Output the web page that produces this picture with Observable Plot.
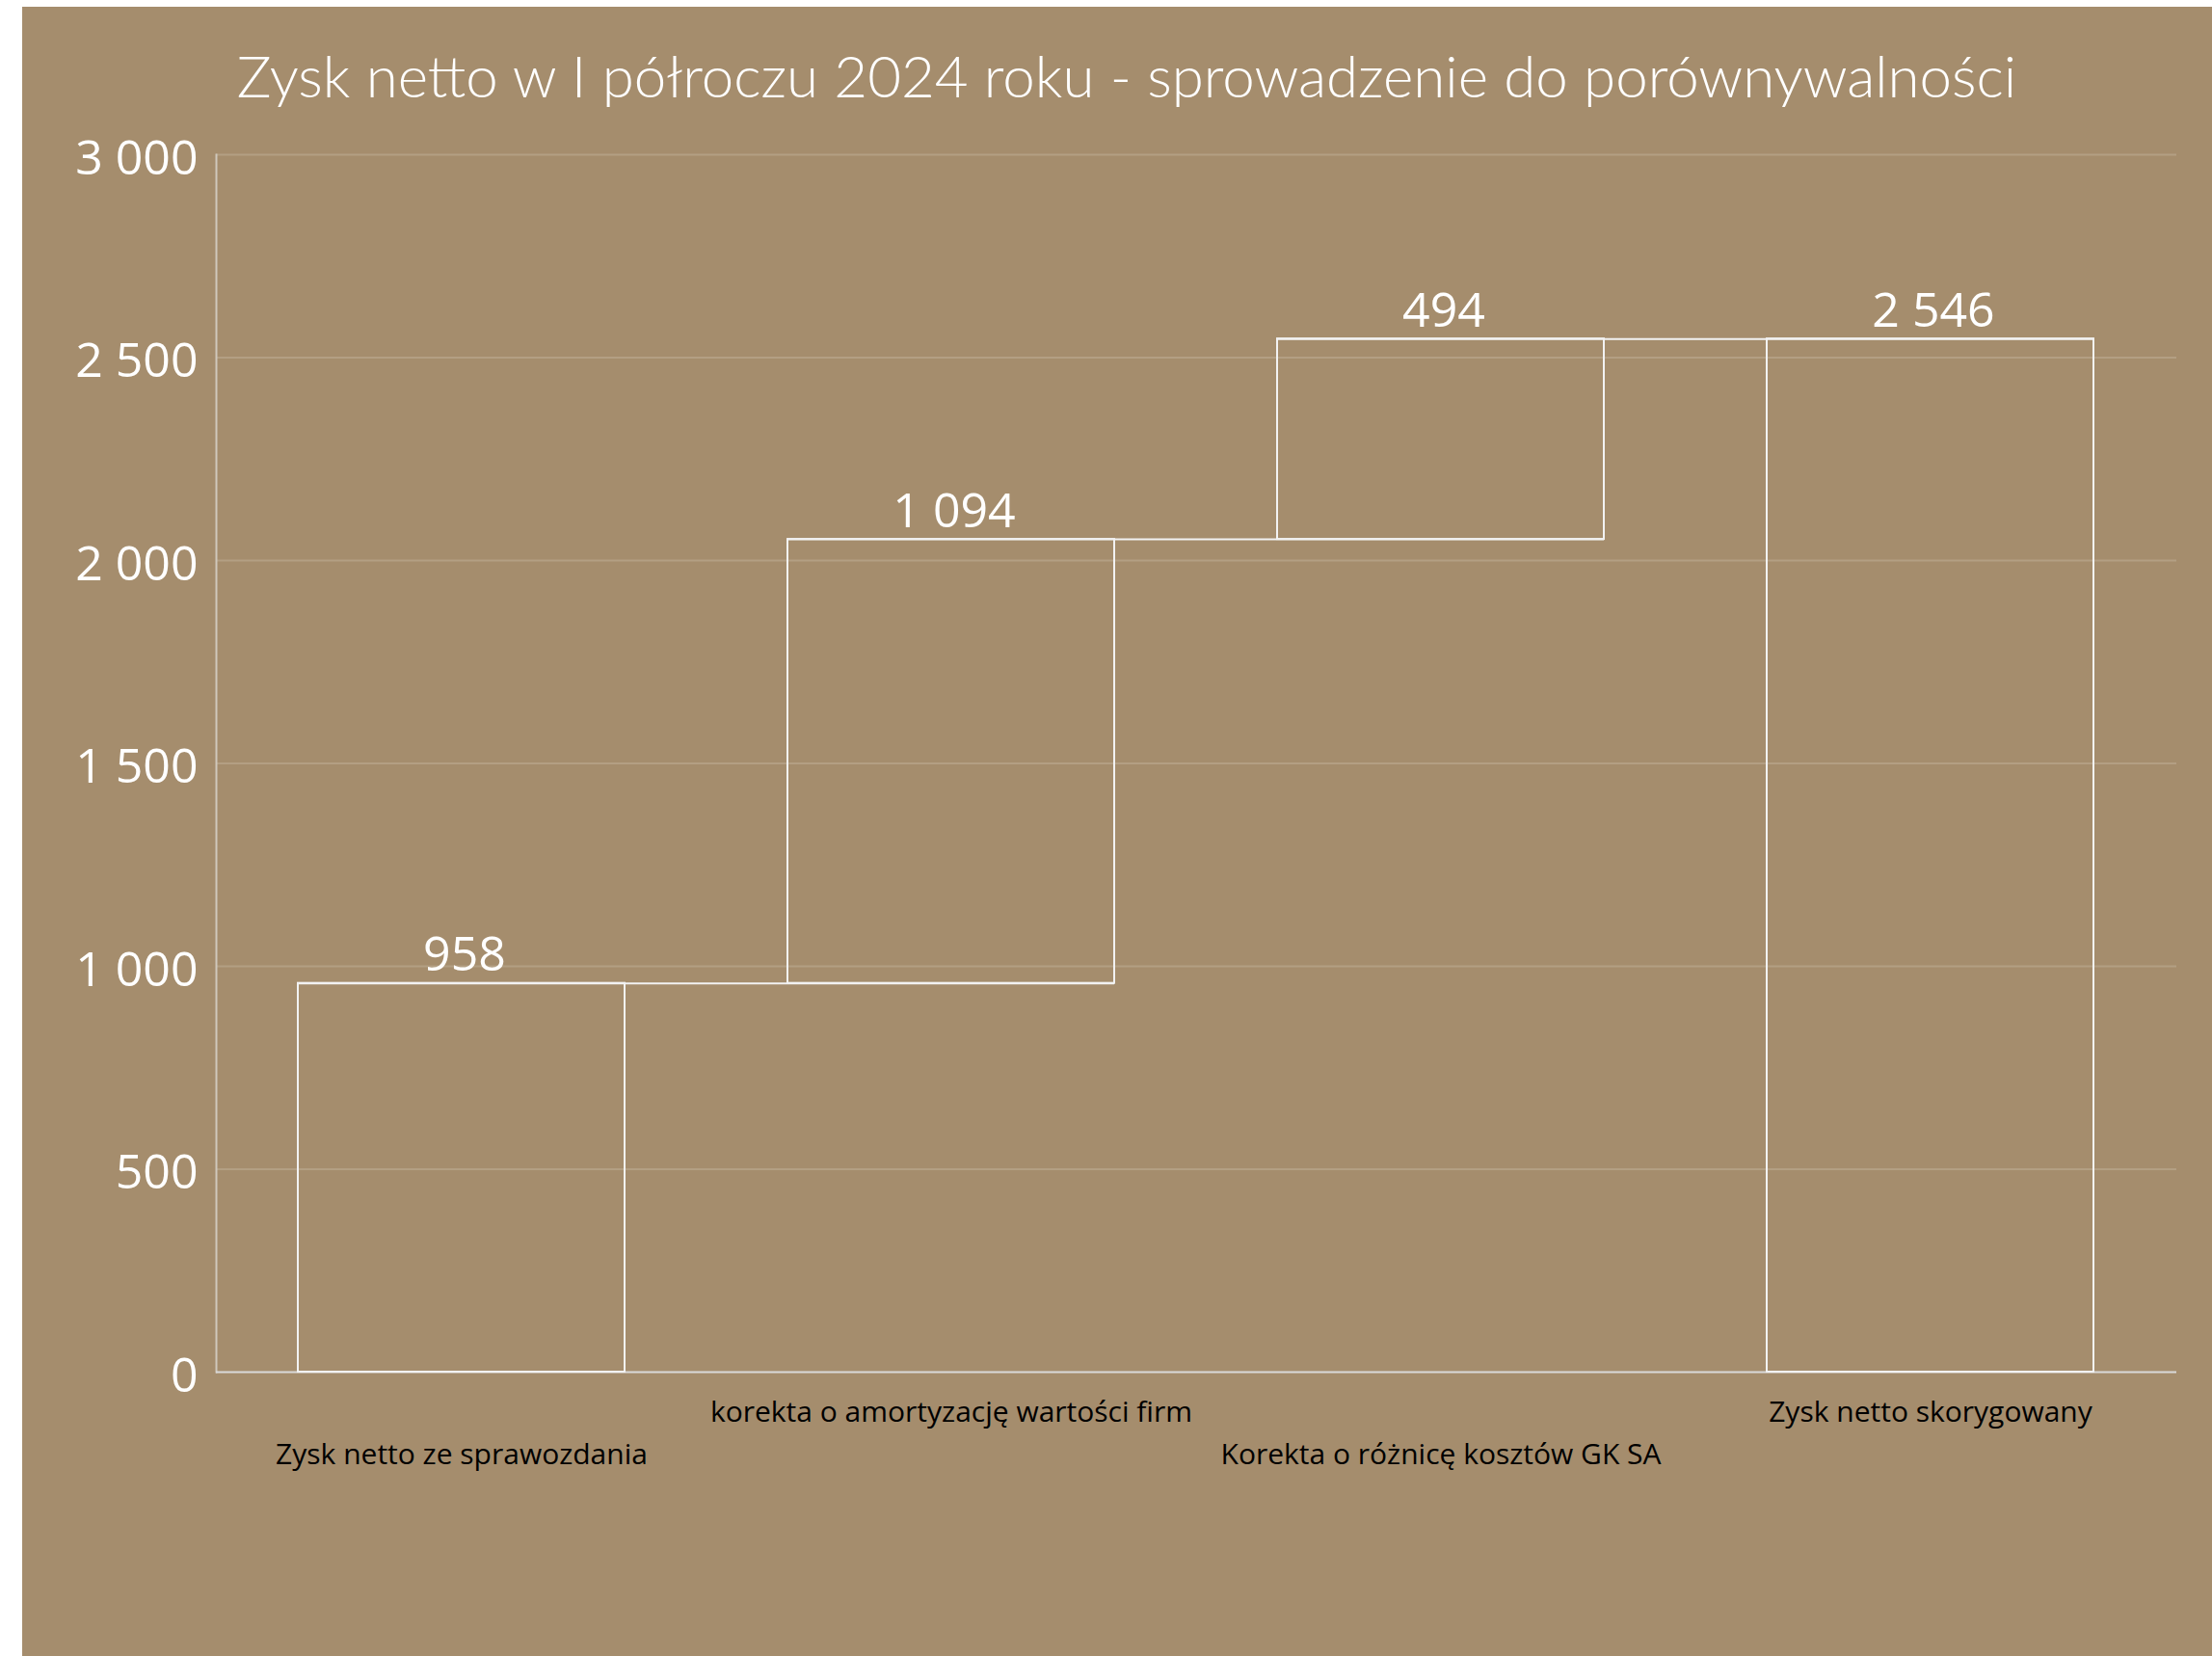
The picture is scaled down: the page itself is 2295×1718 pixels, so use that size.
<!DOCTYPE html>
<html>
<head>
<meta charset="utf-8">
<script src="https://cdn.jsdelivr.net/npm/d3@7"></script>
<script src="https://cdn.jsdelivr.net/npm/@observablehq/plot@0.6"></script>
<style>
  html, body { margin: 0; padding: 0; background: #ffffff; }
  #panel { position: absolute; left: 23px; top: 7px; width: 2272px; height: 1711px; background: #A58D6D; overflow: hidden; }
  #title { position: absolute; left: 20px; top: 41px; width: 2252px; text-align: center;
           font-family: "Lato", "Open Sans", sans-serif; font-weight: 300; font-size: 60px; line-height: 1; color: #ffffff; white-space: nowrap; }
  #chart { position: absolute; left: 0; top: 113px; }
</style>
</head>
<body>
<div id="panel">
  <div id="title">Zysk netto w I półroczu 2024 roku - sprowadzenie do porównywalności</div>
  <div id="chart"></div>
</div>
<script>
// Data
const categories = [
  "Zysk netto ze sprawozdania",
  "korekta o amortyzację wartości firm",
  "Korekta o różnicę kosztów GK SA",
  "Zysk netto skorygowany"
];
const values = [958, 1094, 494, 2546];
const isTotal = [true, false, false, true];
const yTicks = [0, 500, 1000, 1500, 2000, 2500, 3000];

// Build waterfall table
let running = 0;
const rows = categories.map((c, i) => {
  let y1, y2;
  if (isTotal[i]) { y1 = 0; y2 = values[i]; running = values[i]; }
  else { y1 = running; y2 = running + values[i]; running = y2; }
  return {cat: c, value: values[i], y1, y2};
});
const connectors = rows.slice(0, -1).map((r, i) => ({from: r.cat, to: rows[i + 1].cat, level: r.y2}));

const fmt = d => d3.format(",")(d).replace(/,/g, " ");

const W = 2272, H = 1598;
const chart = Plot.plot({
  width: W,
  height: H,
  marginTop: 40,
  marginBottom: 295,
  marginLeft: 201,
  marginRight: 37,
  style: {background: "transparent", fontFamily: "Open Sans, sans-serif", color: "#ffffff"},
  x: {domain: categories, paddingInner: 0.332, paddingOuter: 0.166, axis: null},
  y: {domain: [0, 3000], axis: null},
  marks: [
    Plot.gridY(yTicks.filter(d => d > 0), {stroke: "#B39F83", strokeOpacity: 1, strokeWidth: 2}),
    Plot.frame({anchor: "left", stroke: "#D0C8BC", strokeWidth: 2}),
    Plot.ruleY([0], {stroke: "#D9D9D9", strokeWidth: 2}),
    Plot.axisY(yTicks, {tickSize: 0, tickPadding: 19, dy: 4, tickFormat: fmt, fontSize: 50, fill: "#ffffff"}),
    Plot.barY(rows, {x: "cat", y1: "y1", y2: "y2", fill: "none", stroke: "#F2F2F2", strokeWidth: 2}),
    Plot.ruleY(connectors, {x1: "from", x2: "to", y: "level", stroke: "#F2F2F2", strokeWidth: 2}),
    Plot.text(rows, {x: "cat", y: "y2", text: d => fmt(d.value), dy: -13, dx: 3, lineAnchor: "bottom", fontSize: 50, fill: "#ffffff"}),
    Plot.axisX(categories.filter((d, i) => i % 2 === 1), {tickSize: 0, tickPadding: 30, fontSize: 30, fill: "#000000"}),
    Plot.axisX(categories.filter((d, i) => i % 2 === 0), {tickSize: 0, tickPadding: 74, fontSize: 30, fill: "#000000"})
  ]
});
document.getElementById("chart").appendChild(chart);
</script>
</body>
</html>
